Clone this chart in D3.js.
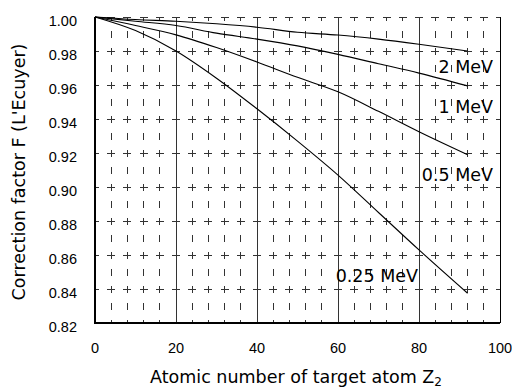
<!DOCTYPE html>
<html>
<head>
<meta charset="utf-8">
<script src="https://cdn.jsdelivr.net/npm/d3@7"></script>
<style>
  body { margin: 0; background: #fff; }
  text { font-family: "Liberation Sans", Arial, sans-serif; fill: #000; }
  .wide { font-family: "DejaVu Sans", sans-serif; }
</style>
</head>
<body>
<div id="chart"></div>
<script>
// atomic number Z2 where values were read
const zValues = [0, 10, 20, 30, 40, 50, 60, 70, 80, 92];

// correction factor F for each energy
const f2MeV   = [1.0, 0.9985, 0.9975, 0.996, 0.994, 0.991, 0.9894, 0.987, 0.984, 0.980];
const f1MeV   = [1.0, 0.9975, 0.995, 0.9905, 0.987, 0.983, 0.978, 0.9725, 0.967, 0.9595];
const f05MeV  = [1.0, 0.995, 0.9895, 0.982, 0.9735, 0.9645, 0.956, 0.9445, 0.9325, 0.919];
const f025MeV = [1.0, 0.992, 0.980, 0.964, 0.946, 0.927, 0.907, 0.885, 0.863, 0.8375];

const seriesNames = ["2 MeV", "1 MeV", "0.5 MeV", "0.25 MeV"];
const xTicks = [0, 20, 40, 60, 80, 100];
const yTicks = [0.82, 0.84, 0.86, 0.88, 0.90, 0.92, 0.94, 0.96, 0.98, 1.00];

const width = 512, height = 389;
const marginLeft = 95, marginRight = 12, marginTop = 17, marginBottom = 66;

const svg = d3.select("#chart")
    .append("svg")
    .attr("width", width)
    .attr("height", height);

const x = d3.scaleLinear().domain([0, 100]).range([marginLeft, width - marginRight]);
const y = d3.scaleLinear().domain([0.82, 1.00]).range([height - marginBottom, marginTop]);

const grid = svg.append("g").attr("shape-rendering", "crispEdges");

// dashed vertical grid every 4
const minorX = d3.range(4, 100, 4).filter(d => d % 20 !== 0);
grid.selectAll(".vdash")
    .data(minorX)
    .join("line")
    .attr("x1", d => x(d)).attr("x2", d => x(d))
    .attr("y1", y(1.00)).attr("y2", y(0.82))
    .attr("stroke", "#333")
    .attr("stroke-dasharray", "7,10")
    .attr("stroke-dashoffset", 3.5);

// solid verticals at 20..80
grid.selectAll(".vsolid")
    .data([20, 40, 60, 80])
    .join("line")
    .attr("x1", d => x(d)).attr("x2", d => x(d))
    .attr("y1", y(1.00)).attr("y2", y(0.82))
    .attr("stroke", "#333");

// dashed horizontal grid
grid.selectAll(".hdash")
    .data(yTicks.filter(d => d > 0.83))
    .join("line")
    .attr("x1", x(0)).attr("x2", x(100))
    .attr("y1", d => y(d)).attr("y2", d => y(d))
    .attr("stroke", "#333")
    .attr("stroke-dasharray", "8,8.2")
    .attr("stroke-dashoffset", 4);

// right border
grid.append("line")
    .attr("x1", x(100)).attr("x2", x(100))
    .attr("y1", y(1.00)).attr("y2", y(0.82))
    .attr("stroke", "#000");

// axes
svg.append("line")
    .attr("x1", x(0)).attr("x2", x(0))
    .attr("y1", y(1.00)).attr("y2", y(0.82) + 1)
    .attr("stroke", "#000").attr("stroke-width", 2);
svg.append("line")
    .attr("x1", x(0) - 1).attr("x2", x(100))
    .attr("y1", y(0.82)).attr("y2", y(0.82))
    .attr("stroke", "#000").attr("stroke-width", 2);

// tick labels
svg.selectAll(".ylab")
    .data(yTicks)
    .join("text")
    .attr("x", 77)
    .attr("y", d => y(d) + 8.5)
    .attr("text-anchor", "end")
    .attr("font-size", 14.5)
    .text(d => d.toFixed(2));

svg.selectAll(".xlab")
    .data(xTicks)
    .join("text")
    .attr("x", d => x(d))
    .attr("y", 353)
    .attr("text-anchor", "middle")
    .attr("font-size", 14.5)
    .text(d => d);

// curves
const allSeries = [f2MeV, f1MeV, f05MeV, f025MeV];
const line = d3.line()
    .x((d, i) => x(zValues[i]))
    .y(d => y(d))
    .curve(d3.curveMonotoneX);

svg.selectAll(".curve")
    .data(allSeries)
    .join("path")
    .attr("fill", "none")
    .attr("stroke", "#000")
    .attr("stroke-width", 1.1)
    .attr("d", line);

// curve labels
const labelPos = [
    { x: 493, y: 73 },
    { x: 493, y: 113 },
    { x: 493, y: 181 },
    { x: 418, y: 282 }
];
svg.selectAll(".clab")
    .data(seriesNames)
    .join("text")
    .attr("class", "wide")
    .attr("x", (d, i) => labelPos[i].x)
    .attr("y", (d, i) => labelPos[i].y)
    .attr("text-anchor", "end")
    .attr("font-size", 17.5)
    .text(d => d);

// axis titles
const xt = svg.append("text")
    .attr("class", "wide")
    .attr("x", 296)
    .attr("y", 383)
    .attr("text-anchor", "middle")
    .attr("font-size", 17.5);
xt.append("tspan").text("Atomic number of target atom Z");
xt.append("tspan").attr("font-size", 12).attr("dy", 3).text("2");

svg.append("text")
    .attr("class", "wide")
    .attr("transform", "translate(25,172) rotate(-90)")
    .attr("text-anchor", "middle")
    .attr("font-size", 17.5)
    .text("Correction factor F (L'Ecuyer)");
</script>
</body>
</html>
